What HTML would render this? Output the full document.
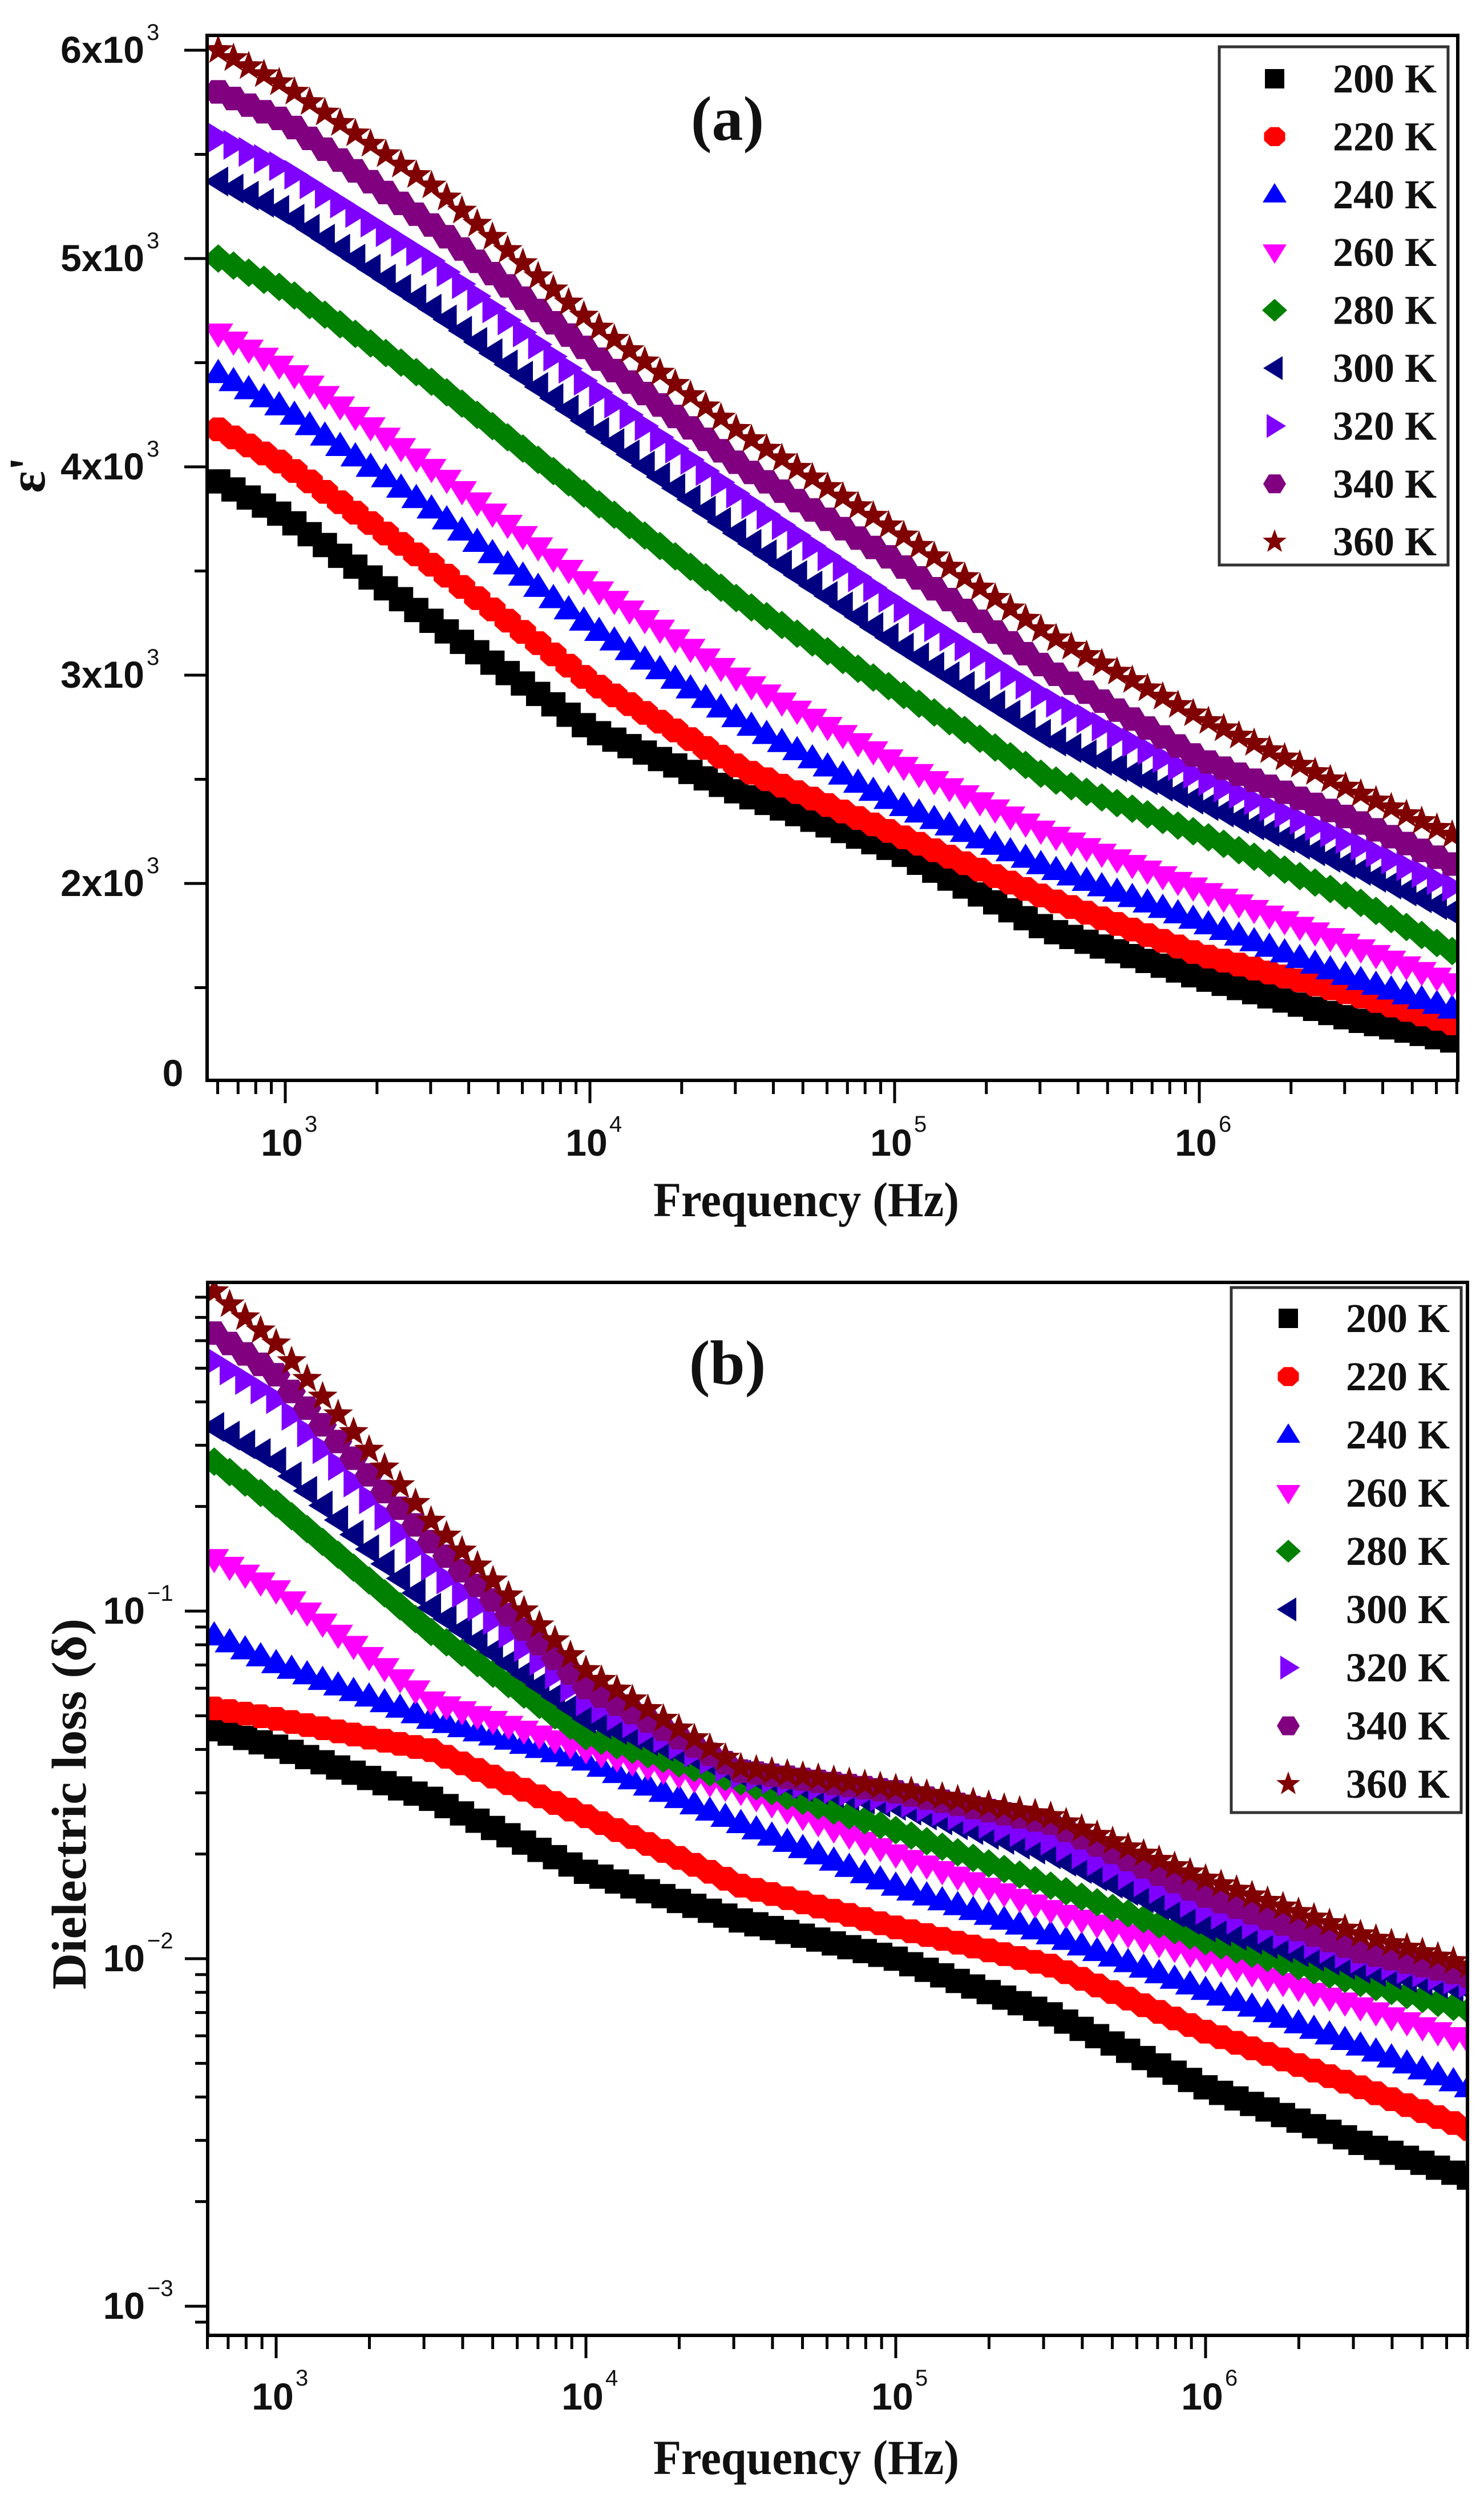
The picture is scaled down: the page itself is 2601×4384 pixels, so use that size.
<!DOCTYPE html>
<html><head><meta charset="utf-8">
<style>
html,body{margin:0;padding:0;background:#fff;}
svg{display:block;}
.tick{font-family:"Liberation Sans",sans-serif;font-size:66px;fill:#111;font-weight:600;}
.sup{font-family:"Liberation Sans",sans-serif;font-size:40px;fill:#111;}
.lab{font-family:"Liberation Serif",serif;font-weight:bold;fill:#111;}
</style></head>
<body>
<svg id="chart" width="2601" height="4384" viewBox="0 0 2601 4384" xmlns="http://www.w3.org/2000/svg">
<rect width="2601" height="4384" fill="#fff"/>
<g id="pa"></g>
<g id="pb"></g>
</svg>
<script>
// ---- shared data ----
const temps = ["200 K","220 K","240 K","260 K","280 K","300 K","320 K","340 K","360 K"];
const colors = ["#000000","#ff0000","#0000ff","#ff00ff","#008000","#000080","#7f00ff","#800080","#800000"];
const shapes = ["square","circle","up","down","diamond","left","right","hex","star"];
// log10(frequency) anchor points
const logFreqA = [2.78,3,3.5,4,4.5,5,5.5,6,6.5,6.85];
const logFreqB = [2.8,3,3.5,4,4.5,5,5.5,6,6.5,6.85];
// panel (a): real permittivity epsilon' (units of 10^3)
const epsA200 = [3.93,3.76,3.24,2.74,2.43,2.16,1.78,1.55,1.35,1.24];
const epsA220 = [4.18,4.01,3.51,2.97,2.55,2.24,1.93,1.66,1.47,1.32];
const epsA240 = [4.45,4.28,3.78,3.24,2.78,2.39,2.08,1.82,1.55,1.39];
const epsA260 = [4.64,4.47,3.97,3.43,2.97,2.58,2.24,1.97,1.70,1.51];
const epsA280 = [5.00,4.85,4.39,3.85,3.35,2.93,2.51,2.24,1.93,1.66];
const epsA300 = [5.37,5.22,4.74,4.20,3.66,3.16,2.70,2.39,2.08,1.85];
const epsA320 = [5.58,5.43,4.97,4.39,3.85,3.35,2.89,2.51,2.20,1.97];
const epsA340 = [5.80,5.66,5.14,4.55,4.00,3.55,3.03,2.60,2.31,2.08];
const epsA360 = [6.00,5.83,5.33,4.70,4.16,3.70,3.20,2.80,2.45,2.22];
// panel (b): log10(dielectric loss)
const lossB200 = [-1.34,-1.39,-1.54,-1.75,-1.89,-2.00,-2.16,-2.37,-2.53,-2.63];
const lossB220 = [-1.28,-1.31,-1.40,-1.59,-1.79,-1.91,-2.02,-2.21,-2.37,-2.49];
const lossB240 = [-1.07,-1.15,-1.31,-1.43,-1.61,-1.79,-1.93,-2.09,-2.25,-2.37];
const lossB260 = [-0.85,-0.94,-1.26,-1.40,-1.52,-1.70,-1.86,-2.00,-2.14,-2.24];
const lossB280 = [-0.57,-0.69,-1.06,-1.36,-1.49,-1.63,-1.79,-1.95,-2.07,-2.15];
const lossB300 = [-0.47,-0.57,-0.99,-1.31,-1.47,-1.56,-1.70,-1.91,-2.03,-2.09];
const lossB320 = [-0.28,-0.39,-0.87,-1.26,-1.47,-1.54,-1.66,-1.86,-2.00,-2.07];
const lossB340 = [-0.20,-0.32,-0.80,-1.22,-1.46,-1.52,-1.61,-1.82,-1.98,-2.05];
const lossB360 = [-0.08,-0.23,-0.74,-1.17,-1.45,-1.51,-1.59,-1.77,-1.93,-2.02];
const xTickLabels = ["3","4","5","6"];
const yTickLabelsA = ["6","5","4","3","2"];
const yTickLabelsB = ["-1","-2","-3"];

const seriesA = [epsA200,epsA220,epsA240,epsA260,epsA280,epsA300,epsA320,epsA340,epsA360];
const seriesB = [lossB200,lossB220,lossB240,lossB260,lossB280,lossB300,lossB320,lossB340,lossB360];

const NS="http://www.w3.org/2000/svg";
function mk(tag,attrs,parent){const e=document.createElementNS(NS,tag);for(const k in attrs)e.setAttribute(k,attrs[k]);parent.appendChild(e);return e;}

function markerPath(shape,x,y,r){
  let p=[];
  if(shape==="square"){return `M${x-r*0.85},${y-r*0.85}h${r*1.7}v${r*1.7}h${-r*1.7}z`;}
  if(shape==="circle"){for(let i=0;i<8;i++){const a=Math.PI/8+i*Math.PI/4;p.push([x+r*Math.cos(a),y+r*0.9*Math.sin(a)]);}}
  if(shape==="hex"){for(let i=0;i<6;i++){const a=i*Math.PI/3;p.push([x+r*Math.cos(a),y+r*0.95*Math.sin(a)]);}}
  if(shape==="up")p=[[x,y-r],[x+r*1.05,y+r*0.7],[x-r*1.05,y+r*0.7]];
  if(shape==="down")p=[[x,y+r],[x+r*1.05,y-r*0.7],[x-r*1.05,y-r*0.7]];
  if(shape==="left")p=[[x-r,y],[x+r*0.7,y-r*1.05],[x+r*0.7,y+r*1.05]];
  if(shape==="right")p=[[x+r,y],[x-r*0.7,y-r*1.05],[x-r*0.7,y+r*1.05]];
  if(shape==="diamond")p=[[x,y-r],[x+r*1.1,y],[x,y+r],[x-r*1.1,y]];
  if(shape==="star"){for(let i=0;i<10;i++){const a=-Math.PI/2+i*Math.PI/5;const rr=i%2?r*0.45:r*1.1;p.push([x+rr*Math.cos(a),y+rr*Math.sin(a)]);}}
  return "M"+p.map(q=>q[0].toFixed(1)+","+q[1].toFixed(1)).join("L")+"Z";
}
function interp(xs,ys,x){
  if(x<=xs[0])return ys[0];
  for(let i=1;i<xs.length;i++){if(x<=xs[i]){const t=(x-xs[i-1])/(xs[i]-xs[i-1]);return ys[i-1]+t*(ys[i]-ys[i-1]);}}
  return ys[ys.length-1];
}

function drawPanel(g,cfg){
  const {L,R,T,B,X,Y,logF,series,yTicks,yTickPos,yLog,legend,tag,tagPos,yLabel,yLabelPos,xLabelY,xTickY,yMinor}=cfg;
  const cid="clip"+tag;
  const cp=mk("clipPath",{id:cid},g);mk("rect",{x:L,y:T,width:R-L,height:B-T},cp);
  const plot=mk("g",{"clip-path":`url(#${cid})`},g);
  
  
  series.forEach((vals,si)=>{
    const sg=mk("g",{fill:colors[si]},plot);
    
    
    let d="";
    const lo=logF[0],hi=logF[logF.length-1];
    const step=0.05;
    for(let lf=lo;lf<=hi+1e-9;lf+=step){
      const v=interp(logF,vals,lf);
      d+=markerPath(shapes[si],X(lf),Y(v),25);
    }
    const path=mk("path",{d:d},sg);
    
    
  });
  const fr=mk("rect",{x:L,y:T,width:R-L,height:B-T,fill:"none",stroke:"#000","stroke-width":6},g);
  
  
  const xt=mk("g",{stroke:"#000","stroke-width":5},g);
  
  
  for(let dec=2;dec<=6;dec++){
    for(let m=1;m<=9;m++){
      const lf=dec+Math.log10(m);
      const x=X(lf);
      if(x<L-1||x>R+1)continue;
      mk("line",{x1:x,y1:B,x2:x,y2:B+(m===1?40:24)},xt);
    }
  }
  xTickLabels.forEach(s=>{
    const e=+s;const x=X(e);
    const t=mk("text",{x:x-6,y:xTickY,"text-anchor":"middle",class:"tick"},g);
    t.textContent="10";
    
    
    const sp=mk("text",{x:x+34,y:xTickY-42,class:"sup"},g);sp.textContent=s;
  });
  const yt=mk("g",{stroke:"#000","stroke-width":5},g);
  
  
  yMinor.forEach(v=>{const y=Y(v);if(y>=T-1&&y<=B+1)mk("line",{x1:L,y1:y,x2:L-22,y2:y},yt);});
  yTicks.forEach((s,i)=>{
    const v=yTickPos(s);const y=Y(v);
    mk("line",{x1:L,y1:y,x2:L-40,y2:y},yt);
    const t=mk("text",{x:L-110,y:y+22,"text-anchor":"end",class:"tick"},g);
    t.textContent=yLog?"10":s+"x10";
    
    
    const sp=mk("text",{x:L-106,y:y-18,class:"sup"},g);sp.textContent=yLog?s.replace('-','\u2212'):"3";
  });
  const tt=mk("text",{x:tagPos[0],y:tagPos[1],"text-anchor":"middle",class:"lab","font-size":110},g);
  tt.textContent="("+tag+")";
  
  
  const xl=mk("text",{x:1413,y:xLabelY,"text-anchor":"middle",class:"lab","font-size":86,textLength:536,lengthAdjust:"spacingAndGlyphs"},g);
  xl.textContent="Frequency (Hz)";
  
  
  const yl=mk("text",{x:0,y:0,"text-anchor":"middle",class:"lab","font-size":yLabel.fs,transform:`translate(${yLabelPos[0]},${yLabelPos[1]}) rotate(-90)`},g);
  if(yLabel.len){yl.setAttribute("textLength",yLabel.len);yl.setAttribute("lengthAdjust","spacingAndGlyphs");}
  yl.textContent=yLabel.text;
  
  
  const lg=mk("g",{},g);
  
  
  mk("rect",{x:legend.x,y:legend.y,width:legend.w,height:legend.h,fill:"#fff",stroke:"#333","stroke-width":5},lg);
  temps.forEach((name,i)=>{
    const y=legend.y0+i*legend.dy;
    const it=mk("g",{},lg);
    
    
    mk("path",{d:markerPath(shapes[i],legend.mx,y,20),fill:colors[i]},it);
    const t=mk("text",{x:legend.tx,y:y+24,class:"lab","font-size":72},it);
    t.textContent=name;
  });
}

const XA=l=>500+(l-3)*534;
const YA=v=>88+(6-v)*365;
const minorA=[];for(let v=1.5;v<=6;v+=1)minorA.push(v);
drawPanel(document.getElementById('pa'),{
  L:363,R:2555,T:62,B:1893,X:XA,Y:YA,logF:logFreqA,series:seriesA,
  yTicks:yTickLabelsA,yTickPos:s=>+s,yLog:false,yMinor:minorA,
  tag:"a",tagPos:[1275,245],xLabelY:2131,xTickY:2025,
  yLabel:{text:"\u03b5'",fs:90},yLabelPos:[78,832],
  legend:{x:2137,y:82,w:401,h:908,y0:138,dy:101.4,mx:2234,tx:2336}
});
(function(){const g=document.getElementById('pa');
const t=mk("text",{x:303,y:1903,"text-anchor":"middle",class:"tick"},g);t.textContent="0";

})();

const XB=l=>484+(l-3)*543;
const YB=v=>2823-(v+1)*609;
const minorB=[];for(let d=-4;d<=0;d++)for(let m=2;m<=9;m++)minorB.push(d+Math.log10(m));
drawPanel(document.getElementById('pb'),{
  L:364,R:2572,T:2247,B:4092,X:XB,Y:YB,logF:logFreqB,series:seriesB,
  yTicks:yTickLabelsB,yTickPos:s=>+s,yLog:true,yMinor:minorB,
  tag:"b",tagPos:[1275,2425],xLabelY:4335,xTickY:4222,
  yLabel:{text:"Dielectric loss (\u03b4)",fs:86,len:650},yLabelPos:[150,3161],
  legend:{x:2158,y:2256,w:403,h:920,y0:2310,dy:102,mx:2258,tx:2359}
});
</script>
</body></html>
